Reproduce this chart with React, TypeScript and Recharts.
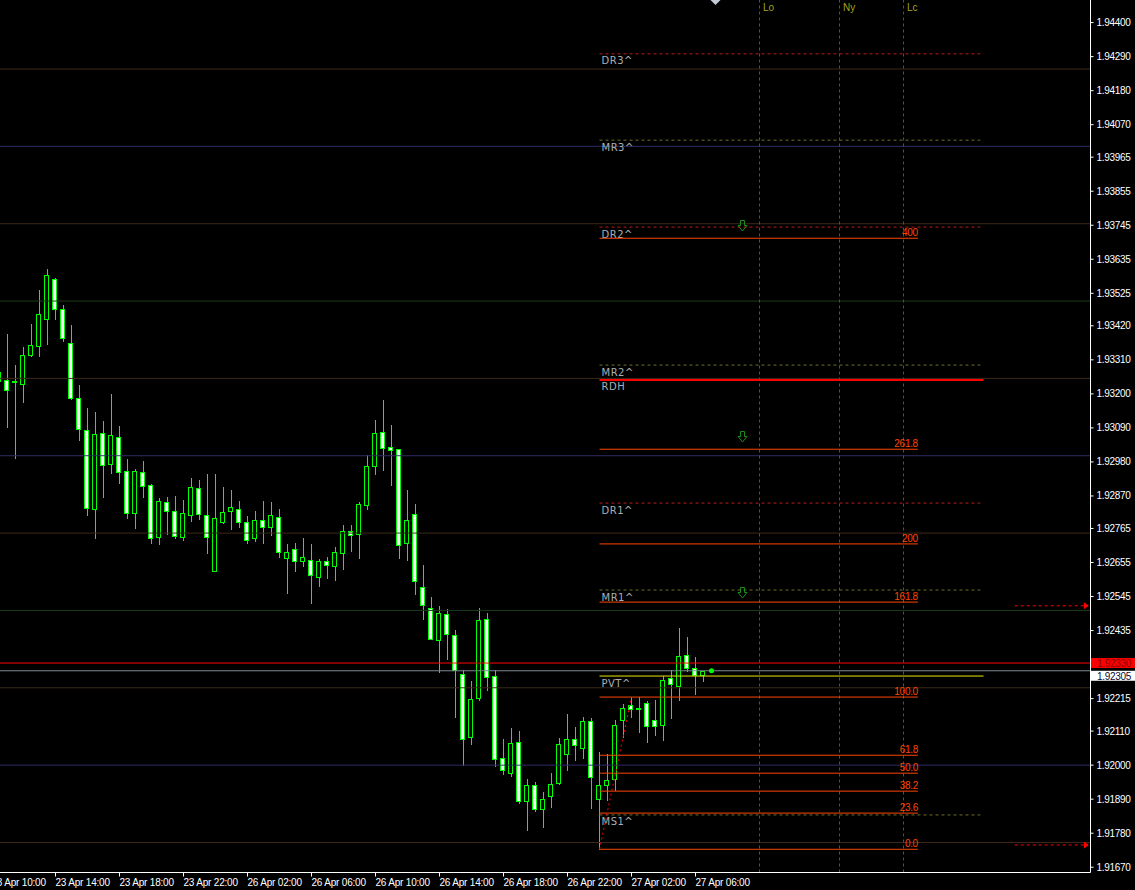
import { Bar, ComposedChart, ReferenceDot, ReferenceLine, XAxis, YAxis } from "recharts";

// bar index of the first candle (the one cut by the left edge)
const firstBar = -1;

const openPrices = [
  1.9327, 1.93244, 1.93241, 1.93233, 1.93327, 1.93354, 1.93441, 1.93571, 1.93474, 1.93364,
  1.93186, 1.93083, 1.92827, 1.93073, 1.92973, 1.9306, 1.9295, 1.92814, 1.92947, 1.92905,
  1.92737, 1.9285, 1.92821, 1.92737, 1.92808, 1.92895, 1.92808, 1.92627, 1.92785, 1.92821,
  1.92827, 1.92785, 1.92734, 1.92792, 1.92769, 1.92801, 1.92671, 1.92698, 1.92659, 1.92662,
  1.92609, 1.92659, 1.92645, 1.92685, 1.92756, 1.92746, 1.9284, 1.92966, 1.93076, 1.93028,
  1.93021, 1.92717, 1.92811, 1.92575, 1.92507, 1.92404, 1.92488, 1.9242, 1.92294, 1.9209,
  1.92216, 1.92472, 1.92287, 1.92022, 1.91974, 1.92074, 1.91883, 1.91935, 1.91858, 1.919,
  1.91942, 1.92035, 1.92084, 1.92055, 1.92142, 1.9189, 1.91935, 1.91955, 1.92145, 1.92194,
  1.92185, 1.922, 1.92145, 1.92129, 1.92281, 1.92255, 1.92355, 1.92313, 1.92291,
];
const highPrices = [
  1.9329, 1.93394, 1.93294, 1.93351, 1.93426, 1.93536, 1.93604, 1.93574, 1.93487, 1.93423,
  1.93229, 1.93155, 1.93141, 1.93113, 1.932, 1.93096, 1.9299, 1.92957, 1.92983, 1.92909,
  1.92865, 1.92868, 1.92869, 1.92857, 1.92927, 1.92921, 1.9294, 1.9294, 1.92898, 1.92889,
  1.92853, 1.92805, 1.92821, 1.92853, 1.9285, 1.92827, 1.92715, 1.92719, 1.92734, 1.92715,
  1.92666, 1.92673, 1.92704, 1.92776, 1.92776, 1.9285, 1.93002, 1.93116, 1.93181, 1.931,
  1.93021, 1.92889, 1.92843, 1.92646, 1.92543, 1.92514, 1.92504, 1.92436, 1.92307, 1.92271,
  1.92507, 1.92491, 1.92307, 1.92084, 1.92119, 1.9211, 1.91955, 1.91945, 1.91913, 1.91974,
  1.92087, 1.92165, 1.92124, 1.92155, 1.92152, 1.92044, 1.92035, 1.92145, 1.92197, 1.9222,
  1.9222, 1.92207, 1.9221, 1.92287, 1.92307, 1.92443, 1.92414, 1.92349, 1.92305,
];
const lowPrices = [
  1.93226, 1.93094, 1.92994, 1.93175, 1.93323, 1.93323, 1.93362, 1.93441, 1.93372, 1.93183,
  1.93051, 1.92809, 1.92735, 1.92868, 1.92944, 1.92913, 1.928, 1.92765, 1.92868, 1.92719,
  1.92716, 1.92748, 1.92735, 1.92729, 1.92788, 1.92797, 1.92685, 1.92627, 1.92782, 1.92763,
  1.92769, 1.92717, 1.92724, 1.92719, 1.92743, 1.92672, 1.92556, 1.92626, 1.92645, 1.92525,
  1.9258, 1.92606, 1.926, 1.92635, 1.92693, 1.92671, 1.92827, 1.9294, 1.92953, 1.92905,
  1.92671, 1.92662, 1.92553, 1.92472, 1.92407, 1.923, 1.92342, 1.92155, 1.92, 1.92068,
  1.9221, 1.92242, 1.91997, 1.91971, 1.91964, 1.91877, 1.91791, 1.91851, 1.91801, 1.91866,
  1.91938, 1.91984, 1.92015, 1.92022, 1.9186, 1.91728, 1.91888, 1.91921, 1.9209, 1.92155,
  1.92108, 1.92074, 1.92097, 1.92081, 1.92152, 1.9221, 1.92304, 1.92229, 1.92271,
];
const closePrices = [
  1.93242, 1.93214, 1.93239, 1.93325, 1.93357, 1.93458, 1.93584, 1.93474, 1.9338, 1.93186,
  1.93086, 1.9283, 1.9307, 1.92969, 1.93066, 1.92947, 1.92814, 1.9295, 1.92902, 1.92734,
  1.92853, 1.92821, 1.9274, 1.92814, 1.92898, 1.92811, 1.92737, 1.92798, 1.92818, 1.92834,
  1.92785, 1.92727, 1.92792, 1.92769, 1.92808, 1.92688, 1.92688, 1.92659, 1.92672, 1.92614,
  1.92659, 1.92648, 1.92688, 1.92756, 1.92743, 1.92843, 1.92966, 1.93073, 1.93024, 1.93018,
  1.92711, 1.92792, 1.92595, 1.92517, 1.92407, 1.92491, 1.92423, 1.92307, 1.92084, 1.92213,
  1.92468, 1.92284, 1.92019, 1.91984, 1.92071, 1.91883, 1.91935, 1.91858, 1.9189, 1.91938,
  1.92068, 1.92084, 1.92064, 1.92142, 1.91961, 1.91935, 1.91951, 1.92129, 1.92184, 1.92181,
  1.92183, 1.92126, 1.92126, 1.92275, 1.92262, 1.92352, 1.92313, 1.92291, 1.92305,
];

const priceTicks = [
  1.944, 1.9429, 1.9418, 1.9407, 1.93965, 1.93855, 1.93745, 1.93635, 1.93525, 1.9342, 1.9331,
  1.932, 1.9309, 1.9298, 1.9287, 1.92765, 1.92655, 1.92545, 1.92435, 1.92215, 1.9211, 1.92,
  1.9189, 1.9178, 1.9167,
];
const timeTickBars = [-2, 6, 14, 22, 30, 38, 46, 54, 62, 70, 78, 86];
const timeTickLabels = [
  "23 Apr 10:00", "23 Apr 14:00", "23 Apr 18:00", "23 Apr 22:00", "26 Apr 02:00", "26 Apr 06:00",
  "26 Apr 10:00", "26 Apr 14:00", "26 Apr 18:00", "26 Apr 22:00", "27 Apr 02:00", "27 Apr 06:00",
];

// round-number levels drawn as coloured grid
const gridBlue = [1.94, 1.93, 1.92];
const gridGreen = [1.935, 1.925];
const gridBrown = [1.9425, 1.9375, 1.9325, 1.9275, 1.9225, 1.9175];

const pivotNames = ["DR3^", "MR3^", "DR2^", "MR2^", "DR1^", "MR1^", "PVT^", "MS1^"];
const pivotPrices = [1.94299, 1.9402, 1.93739, 1.93293, 1.92847, 1.92566, 1.92288, 1.91839];
const rdhPrice = 1.93245;

const fibNames = ["400", "261.8", "200", "161.8", "100.0", "61.8", "50.0", "38.2", "23.6", "0.0"];
const fibPrices = [1.93703, 1.93021, 1.92715, 1.92527, 1.9222, 1.92032, 1.91974, 1.91916, 1.91845, 1.91728];
const fibFromBar = 74;
const fibToBar = 78;

const sessionNames = ["Lo", "Ny", "Lc"];
const sessionBars = [94, 104, 112];

const signalPrices = [1.93743, 1.93059, 1.92555];
const alertPrices = [1.92515, 1.91742];

const lastPrice = 1.9233;
const bidPrice = 1.92305;
const lastBar = 87;

const X_DOMAIN: [number, number] = [-0.9375, 135.375];
const Y_DOMAIN: [number, number] = [1.91653, 1.94473];

const CANDLE = "#00ff00";
const AXIS_FONT = "Liberation Sans, Arial, sans-serif";

const candles = openPrices.map((open, n) => ({
  i: n + firstBar,
  open,
  high: highPrices[n],
  low: lowPrices[n],
  close: closePrices[n],
  range: [lowPrices[n], highPrices[n]],
}));

function Candle(props: any) {
  const { x, y, width, height, payload } = props;
  if (x == null || !payload) return null;
  const { open, close, high, low } = payload;
  const cx = Math.floor(x + width / 2) + 0.5;
  const k = high > low ? height / (high - low) : 0;
  const yOpen = y + (high - open) * k;
  const yClose = y + (high - close) * k;
  const top = Math.round(Math.min(yOpen, yClose));
  const bottom = Math.round(Math.max(yOpen, yClose));
  const left = Math.floor(x);
  return (
    <g>
      <line x1={cx} x2={cx} y1={Math.round(y)} y2={Math.round(y + height) + 1} stroke={CANDLE} />
      {bottom - top < 2 ? (
        <rect x={left} y={top} width={5} height={2} fill={CANDLE} />
      ) : (
        <rect
          x={left + 0.5}
          y={top + 0.5}
          width={4}
          height={bottom - top}
          fill={close < open ? "#ffffff" : "#000000"}
          stroke={CANDLE}
        />
      )}
    </g>
  );
}

function TimeTick({ x, y, payload }: any) {
  const label = timeTickLabels[timeTickBars.indexOf(payload.value)];
  return (
    <text x={x} y={y + 9} fill="#ffffff" fontSize={10} fontFamily={AXIS_FONT} letterSpacing={-0.2}>
      {label}
    </text>
  );
}

function PriceTick({ x, y, payload }: any) {
  return (
    <text x={x + 1} y={y + 3.5} fill="#ffffff" fontSize={10} fontFamily={AXIS_FONT} letterSpacing={-0.3}>
      {Number(payload.value).toFixed(5)}
    </text>
  );
}

function LevelTag({ viewBox, text }: any) {
  if (!viewBox) return null;
  return (
    <text x={viewBox.x + 2} y={viewBox.y + 10.5} fill="#a9afb6" fontSize={10} fontFamily="DejaVu Sans" letterSpacing={0.5}>
      {text}
    </text>
  );
}

function FibTag({ viewBox, text }: any) {
  if (!viewBox) return null;
  return (
    <text
      x={viewBox.x + viewBox.width}
      y={viewBox.y - 2}
      textAnchor="end"
      fill="#ff4500"
      fontSize={10}
      fontFamily={AXIS_FONT}
      letterSpacing={-0.3}
    >
      {text}
    </text>
  );
}

function SessionTag({ viewBox, text }: any) {
  if (!viewBox) return null;
  return (
    <text x={viewBox.x + 3.5} y={viewBox.y + 11} fill="#a3a31c" fontSize={10} fontFamily={AXIS_FONT}>
      {text}
    </text>
  );
}

function ArrowHead({ viewBox }: any) {
  if (!viewBox) return null;
  const tx = viewBox.x + viewBox.width + 1;
  const ty = viewBox.y;
  return <polygon points={`${tx},${ty} ${tx - 5},${ty - 3.5} ${tx - 5},${ty + 3.5}`} fill="#ff0000" />;
}

function PriceBox({ viewBox, text, fill, color, dy }: any) {
  if (!viewBox) return null;
  const bx = viewBox.x + viewBox.width + 0.5;
  const by = viewBox.y + dy;
  return (
    <g>
      <rect x={bx} y={by - 5} width={45} height={10} fill={fill} />
      <text x={bx + 6} y={by + 4} fill={color} fontSize={10} fontFamily={AXIS_FONT} letterSpacing={-0.3}>
        {text}
      </text>
    </g>
  );
}

function DownArrow({ cx, cy }: any) {
  const x = Math.round(cx) + 0.5;
  const y = Math.round(cy) - 5.5;
  const d = `M${x - 2},${y} L${x + 2},${y} L${x + 2},${y + 5} L${x + 4.5},${y + 5} L${x},${y + 10.5} L${x - 4.5},${y + 5} L${x - 2},${y + 5} Z`;
  return <path d={d} fill="none" stroke="#1a8c1a" strokeWidth={1} />;
}

function ShiftMarker({ cx, cy }: any) {
  return <polygon points={`${cx - 5},${cy} ${cx + 5},${cy} ${cx},${cy + 5}`} fill="#c4cad6" />;
}

export default function App() {
  return (
    <div style={{ position: "fixed", left: 0, top: 0, width: 1135, height: 890, background: "#000", overflow: "hidden" }}>
      <ComposedChart width={1135} height={890} data={candles} margin={{ top: 0, right: 0, bottom: 0, left: 0 }}>
        <XAxis
          dataKey="i"
          type="number"
          domain={X_DOMAIN}
          allowDataOverflow
          ticks={timeTickBars}
          interval={0}
          height={17.5}
          tickSize={4}
          tickMargin={0}
          axisLine={{ stroke: "#ffffff" }}
          tickLine={{ stroke: "#ffffff" }}
          tick={<TimeTick />}
        />
        <YAxis
          orientation="right"
          type="number"
          domain={Y_DOMAIN}
          allowDataOverflow
          ticks={priceTicks}
          interval={0}
          width={44.5}
          tickSize={3}
          tickMargin={2}
          axisLine={{ stroke: "#ffffff" }}
          tickLine={{ stroke: "#ffffff" }}
          tick={<PriceTick />}
        />

        {gridBrown.map((p) => (
          <ReferenceLine key={`br${p}`} y={p} stroke="#3b2a1b" />
        ))}
        {gridGreen.map((p) => (
          <ReferenceLine key={`gr${p}`} y={p} stroke="#1b3a1b" />
        ))}
        {gridBlue.map((p) => (
          <ReferenceLine key={`bl${p}`} y={p} stroke="#2e2e66" />
        ))}

        {sessionBars.map((b, n) => (
          <ReferenceLine
            key={`s${b}`}
            x={b}
            stroke="#58581e"
            strokeDasharray="3 3"
            label={<SessionTag text={sessionNames[n]} />}
          />
        ))}

        {pivotPrices.map((p, n) => {
          const name = pivotNames[n];
          const isPvt = name === "PVT^";
          const isDr = name.startsWith("DR");
          return (
            <ReferenceLine
              key={`pv${name}`}
              segment={[
                { x: 74, y: p },
                { x: isPvt ? 122 : 121.6, y: p },
              ]}
              stroke={isPvt ? "#e8e800" : isDr ? "#b81a1a" : "#6e6e26"}
              strokeDasharray={isPvt ? undefined : "3 3"}
              label={<LevelTag text={name} />}
            />
          );
        })}
        <ReferenceLine
          segment={[
            { x: 74, y: rdhPrice },
            { x: 122, y: rdhPrice },
          ]}
          stroke="#ff0000"
          strokeWidth={2}
          label={<LevelTag text="RDH" />}
        />

        {fibPrices.map((p, n) => (
          <ReferenceLine
            key={`fb${fibNames[n]}`}
            segment={[
              { x: 74, y: p },
              { x: 113.8, y: p },
            ]}
            stroke="#ff4500"
            label={<FibTag text={fibNames[n]} />}
          />
        ))}

        {alertPrices.map((p) => (
          <ReferenceLine
            key={`al${p}`}
            segment={[
              { x: 125.9, y: p },
              { x: 135.05, y: p },
            ]}
            stroke="#ff0000"
            strokeDasharray="3 3"
            label={<ArrowHead />}
          />
        ))}

        <ReferenceLine y={bidPrice} stroke="#7d8a97" label={<PriceBox text={bidPrice.toFixed(5)} fill="#ffffff" color="#0a0a30" dy={5} />} />
        <ReferenceLine y={lastPrice} stroke="#ff0000" label={<PriceBox text={lastPrice.toFixed(5)} fill="#ff0000" color="#8a0000" dy={0} />} />

        <Bar dataKey="range" barSize={5} isAnimationActive={false} shape={(p: any) => <Candle {...p} />} />

        <ReferenceLine
          segment={[
            { x: fibFromBar, y: fibPrices[fibPrices.length - 1] },
            { x: fibToBar, y: fibPrices[4] },
          ]}
          stroke="#ff0000"
          strokeDasharray="2 3"
        />

        {signalPrices.map((p) => (
          <ReferenceDot key={`sg${p}`} x={91.75} y={p} r={5} shape={<DownArrow />} ifOverflow="visible" />
        ))}
        <ReferenceDot x={lastBar + 1} y={bidPrice} r={2.5} fill="#00ff00" stroke="none" />
        <ReferenceDot x={lastBar + 1.5} y={Y_DOMAIN[1]} r={5} shape={<ShiftMarker />} ifOverflow="visible" />
      </ComposedChart>
    </div>
  );
}
